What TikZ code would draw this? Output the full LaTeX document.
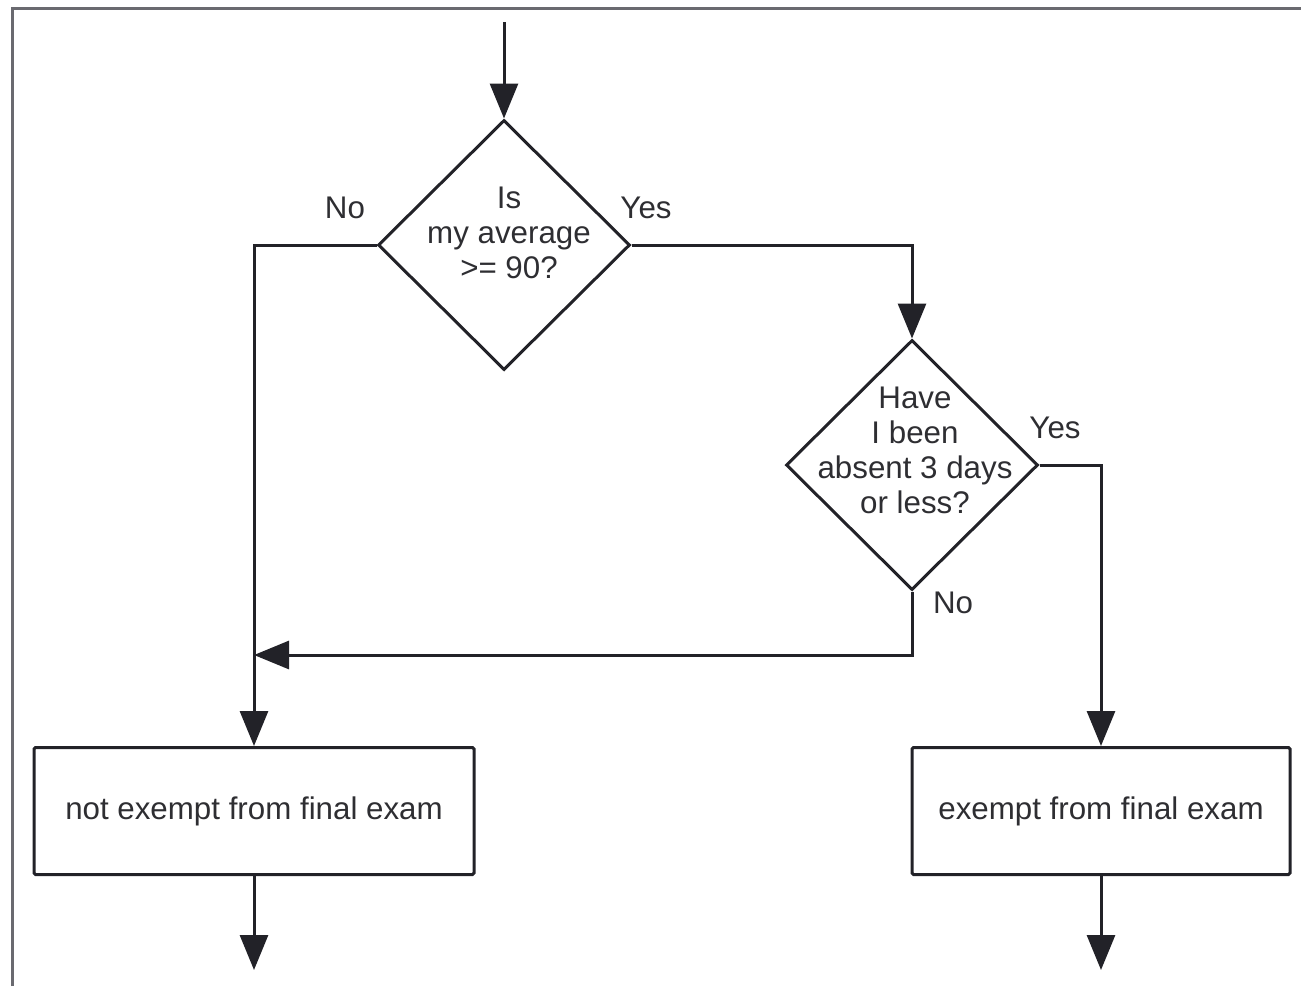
\documentclass[tikz,border=0pt]{standalone}
\usepackage{fontspec}
\setmainfont{Liberation Sans}
\usetikzlibrary{shapes.geometric,arrows.meta,calc}
\definecolor{ink}{HTML}{222228}
\definecolor{txt}{HTML}{2E2E32}
\definecolor{framegray}{HTML}{6A6A70}
\begin{document}
\begin{tikzpicture}[x=1pt,y=-1pt,
  every node/.style={font=\fontsize{31.3}{35}\selectfont, text=txt},
  arr/.style={draw=ink, line width=3pt, -{Triangle[length=35pt,width=28pt]}},
  decision/.style={diamond, draw=ink, line width=3pt, minimum width=252pt,
    minimum height=250pt, inner sep=0pt},
  qtext/.style={align=center, inner sep=0pt},
  outcome/.style={rectangle, draw=ink, line width=3pt, rounded corners=1.5pt,
    minimum height=127pt, inner sep=0pt},
  tag/.style={inner sep=0pt}]
  \useasboundingbox (0,0) rectangle (1301,986);
  % page frame
  \draw[framegray, line width=3pt] (12,986) -- (12,8) -- (1301,8);

  % decisions
  \node[decision] (d1) at (504,245) {};
  \node[qtext] (q1) at ($(d1.center)+(5,-12)$) {Is\\my average\\>= 90?};
  \node[decision] (d2) at (912,465) {};
  \node[qtext] (q2) at ($(d2.center)+(3,-15)$) {Have\\I been\\absent 3 days\\or less?};

  % outcomes
  \node[outcome, minimum width=440pt] (b1) at (254,811) {not exempt from final exam};
  \node[outcome, minimum width=378pt] (b2) at (1101,811) {exempt from final exam};

  % branch labels
  \node[tag] (no1) at (345,208) {No};
  \node[tag] (yes1) at (646,208) {Yes};
  \node[tag] (yes2) at (1055,428) {Yes};
  \node[tag] (no2) at (953,603) {No};

  % connectors
  \coordinate (start) at (504,22);
  \coordinate (join) at (254,655);
  \coordinate (out1) at (254,970);
  \coordinate (out2) at (1101,970);
  \draw[arr] (start) -- (d1.north);
  \draw[arr] (d1.east) -| (d2.north);
  \draw[arr] (d2.east) -| (b2.north);
  \draw[arr] (d1.west) -| (b1.north);
  \draw[arr] (d2.south) |- (join);
  \draw[arr] (b1.south) -- (out1);
  \draw[arr] (b2.south) -- (out2);
\end{tikzpicture}
\end{document}
